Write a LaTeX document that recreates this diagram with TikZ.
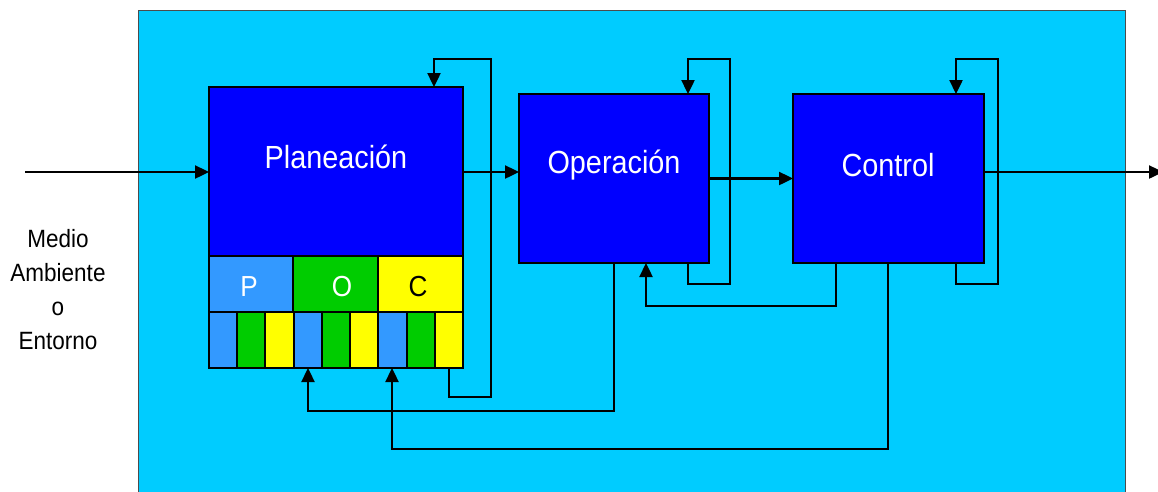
\documentclass[tikz,border=0pt]{standalone}
\usepackage{fontspec}
\setmainfont{Liberation Sans}[FakeStretch=0.9]
\usetikzlibrary{arrows.meta,calc}
\definecolor{bgcyan}{HTML}{00CCFF}
\definecolor{boxblue}{HTML}{0000FF}
\definecolor{cellblue}{HTML}{3399FF}
\definecolor{cellgreen}{HTML}{00CC00}
\definecolor{cellyellow}{HTML}{FFFF00}
\begin{document}
\begin{tikzpicture}[x=1pt,y=-1pt,
  box/.style={draw=black, line width=2.2pt, fill=boxblue, inner sep=0pt, outer sep=0pt, anchor=north west},
  cell/.style={draw=black, line width=2pt, inner sep=0pt, outer sep=0pt, anchor=north west, minimum height=56pt},
  bigcell/.style={cell, minimum width=85pt},
  smallcell/.style={cell, minimum width=28.22pt},
  lbl/.style={text=white, font=\fontsize{32}{32}\selectfont, inner sep=0pt},
  letter/.style={font=\fontsize{29}{29}\selectfont, inner sep=0pt},
  conn/.style={draw=black, line width=2.4pt},
  arr/.style={conn, -{Triangle[length=14pt,width=13pt]}}]
\useasboundingbox (0,0) rectangle (1158,491);
\clip (0,0) rectangle (1158,491);
% background
\node[draw=black!70, line width=1pt, fill=bgcyan, anchor=north west, minimum width=987pt, minimum height=500pt, inner sep=0pt, outer sep=0pt] (bg) at (138,10) {};
% main boxes
\node[box, minimum width=254pt, minimum height=281pt] (plan) at (209,87) {};
\node[box, minimum width=190pt, minimum height=169pt] (oper) at (519,94) {};
\node[box, minimum width=191pt, minimum height=169pt] (ctrl) at (793,94) {};
% labels
\node[lbl] (planlbl) at (336,157) {Planeación};
\node[lbl] (operlbl) at (614,165) {Operación};
\node[lbl] (ctrllbl) at (888,165) {Control};
% POC row
\node[bigcell, fill=cellblue, minimum width=84pt] (cP) at (209,256) {};
\node[bigcell, fill=cellgreen] (cO) at (293,256) {};
\node[bigcell, fill=cellyellow] (cC) at (378,256) {};
\node[letter, text=white] (lP) at (249,287) {P};
\node[letter, text=white] (lO) at (342,287) {O};
\node[letter, text=black] (lC) at (418,287) {C};
% small cells
\foreach \i/\c in {0/cellblue,1/cellgreen,2/cellyellow,3/cellblue,4/cellgreen,5/cellyellow,6/cellblue,7/cellgreen,8/cellyellow}{
  \node[smallcell, fill=\c] (s\i) at ({209+\i*28.22},312) {};
}
% environment text
\node[align=center, font=\fontsize{25}{34}\selectfont, inner sep=0pt] (env) at (58,290) {Medio\\Ambiente\\o\\Entorno};
% coordinates
\coordinate (in) at (25,172);
\coordinate (out) at (1163,172);
\coordinate (pA) at (449,397);
\coordinate (pB) at (491,59);
\coordinate (pC) at (434,59);
\coordinate (oA) at (688,284);
\coordinate (oB) at (730,59);
\coordinate (oC) at (688,59);
\coordinate (cA) at (956,284);
\coordinate (cB) at (998,59);
\coordinate (cC2) at (956,59);
\coordinate (co1) at (836,306);
\coordinate (co2) at (646,306);
\coordinate (op1) at (614,411);
\coordinate (op2) at (308,411);
\coordinate (cp1) at (888,449);
\coordinate (cp2) at (392,449);
% forward flow
\draw[arr] (in) -- (in -| plan.west);
\draw[arr] (in -| plan.east) -- (in -| oper.west);
\draw[arr] (oper.east) -- (ctrl.west);
\draw[arr] (out -| ctrl.east) -- (out);
% self loops
\draw[arr] (plan.south -| pA) -- (pA) -| (pB) -- (pC) -- (plan.north -| pC);
\draw[arr] (oper.south -| oA) -- (oA) -| (oB) -- (oC) -- (oper.north -| oC);
\draw[arr] (ctrl.south -| cA) -- (cA) -| (cB) -- (cC2) -- (ctrl.north -| cC2);
% feedback
\draw[arr] (ctrl.south -| co1) -- (co1) -- (co2) -- (oper.south -| co2);
\draw[arr] (oper.south -| op1) -- (op1) -- (op2) -- (plan.south -| op2);
\draw[arr] (ctrl.south -| cp1) -- (cp1) -- (cp2) -- (plan.south -| cp2);
\end{tikzpicture}
\end{document}
